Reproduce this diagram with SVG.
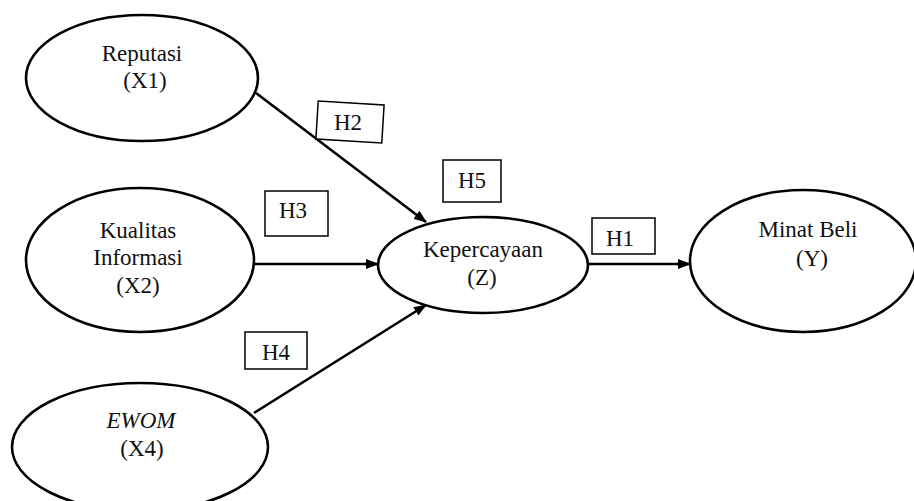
<svg xmlns="http://www.w3.org/2000/svg" width="914" height="501" viewBox="0 0 914 501">
<style>
.node ellipse{fill:#fff;stroke:#000;stroke-width:2.6}
.t{font-family:"Liberation Serif","Times New Roman",serif;font-size:23px;fill:#111;text-anchor:middle}
.lbl rect{fill:#fff;stroke:#000;stroke-width:1.5}
.conn line{stroke:#000;stroke-width:2.6;marker-end:url(#ah)}
</style>
<defs>
<marker id="ah" markerWidth="14" markerHeight="10" refX="12" refY="5" orient="auto" markerUnits="userSpaceOnUse">
<path d="M0,0 L13,5 L0,10 z" fill="#000"/>
</marker>
</defs>
<rect width="914" height="501" fill="#fff"/>
<g id="connectors" class="conn">
<line x1="256" y1="93" x2="426" y2="222"/>
<line x1="253" y1="264" x2="378" y2="264"/>
<line x1="254" y1="413" x2="426" y2="305"/>
<line x1="588" y1="264" x2="690" y2="264"/>
</g>
<g id="x1" class="node">
<ellipse cx="142" cy="78" rx="116" ry="63"/>
<text class="t" x="142" y="61">Reputasi</text>
<text class="t" x="145" y="88">(X1)</text>
</g>
<g id="x2" class="node">
<ellipse cx="140" cy="260" rx="114" ry="72"/>
<text class="t" x="138" y="238">Kualitas</text>
<text class="t" x="138" y="265">Informasi</text>
<text class="t" x="138" y="293">(X2)</text>
</g>
<g id="x4" class="node">
<ellipse cx="140" cy="447" rx="128" ry="64"/>
<text class="t" x="141" y="428" font-style="italic">EWOM</text>
<text class="t" x="142" y="456">(X4)</text>
</g>
<g id="z" class="node">
<ellipse cx="483" cy="265" rx="105" ry="48"/>
<text class="t" x="483" y="257">Kepercayaan</text>
<text class="t" x="482" y="285">(Z)</text>
</g>
<g id="y" class="node">
<ellipse cx="803" cy="261" rx="113" ry="71"/>
<text class="t" x="808" y="237">Minat Beli</text>
<text class="t" x="812" y="266">(Y)</text>
</g>
<g id="h2" class="lbl">
<rect x="317" y="103" width="66" height="38" transform="rotate(3.5 350 122)"/>
<text class="t" x="348" y="130">H2</text>
</g>
<g id="h5" class="lbl">
<rect x="443" y="160" width="58" height="42"/>
<text class="t" x="472" y="188">H5</text>
</g>
<g id="h3" class="lbl">
<rect x="265" y="191" width="63" height="45"/>
<text class="t" x="293" y="218">H3</text>
</g>
<g id="h4" class="lbl">
<rect x="245" y="332" width="62" height="37"/>
<text class="t" x="276" y="360">H4</text>
</g>
<g id="h1" class="lbl">
<rect x="592" y="218" width="63" height="36"/>
<text class="t" x="620" y="246">H1</text>
</g>
</svg>
